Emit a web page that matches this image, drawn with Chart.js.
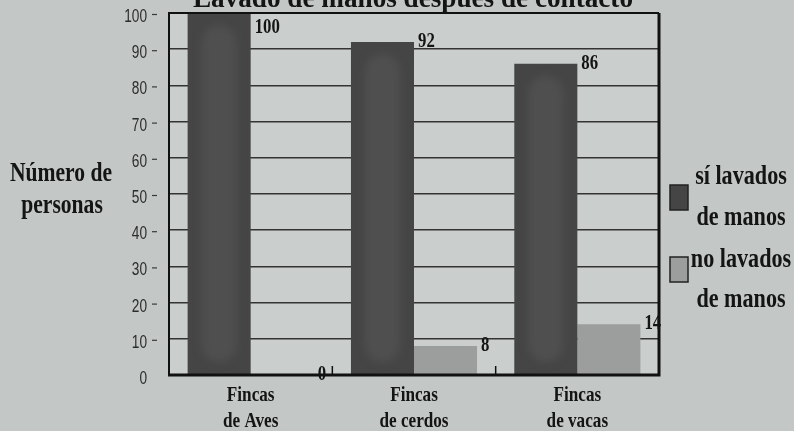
<!DOCTYPE html>
<html>
<head>
<meta charset="utf-8">
<script src="https://cdn.jsdelivr.net/npm/chart.js"></script>
<style>
  html, body { margin: 0; padding: 0; background: #c3c7c6; }
  canvas { display: block; }
</style>
</head>
<body>
<canvas id="myChart" width="794" height="431"></canvas>

<script>
// -- Data
const chart_title = 'Lavado de manos después de contacto';
const y_title = ['Número de', 'personas'];
const categories = [['Fincas', 'de Aves'], ['Fincas', 'de cerdos'], ['Fincas', 'de vacas']];
const si_lavados = [100, 92, 86];
const no_lavados = [0, 8, 14];
const series_names = [['sí lavados', 'de manos'], ['no lavados', 'de manos']];
const y_ticks = [0, 10, 20, 30, 40, 50, 60, 70, 80, 90, 100];

const DARK = '#454545';
const LIGHT = '#9c9e9e';
const INK = '#141414';
const SERIF = '"Liberation Serif", "Times New Roman", serif';
const SANS = '"Liberation Sans", Arial, sans-serif';

// -- Draw text squeezed horizontally (the labels use a narrow face).
const squeeze_text = (ctx, text, x, y, font, align, sx) => {
  ctx.save();
  ctx.font = font;
  ctx.translate(x, y);
  ctx.scale(sx, 1);
  ctx.textAlign = align;
  ctx.textBaseline = 'alphabetic';
  ctx.fillText(text, 0, 0);
  ctx.restore();
};

const paint_plugin = {
  id: 'paint',
  beforeDraw(chart) {
    const {ctx, chartArea: a} = chart;
    ctx.save();
    ctx.fillStyle = '#c3c7c6';
    ctx.fillRect(0, 0, chart.width, chart.height);
    ctx.fillStyle = '#cacecd';
    ctx.fillRect(a.left, a.top, a.right - a.left, a.bottom - a.top);
    ctx.restore();
  },
  afterDatasetsDraw(chart) {
    const {ctx, chartArea: a, scales: {x, y}} = chart;
    ctx.save();

    // -- Soft lighter core on the dark bars.
    chart.getDatasetMeta(0).data.forEach((bar) => {
      const w = bar.width;
      const l = bar.x - w / 2 + w * 0.22;
      const r = bar.x + w / 2 - w * 0.22;
      const t = bar.y + 12;
      const b = bar.base - 12;
      ctx.save();
      ctx.filter = 'blur(4px)';
      ctx.fillStyle = 'rgba(95,95,95,0.4)';
      ctx.beginPath();
      ctx.roundRect(l, t, r - l, b - t, (r - l) / 2);
      ctx.fill();
      ctx.restore();
    });

    // -- Plot frame.
    ctx.strokeStyle = '#111';
    ctx.lineWidth = 2;
    ctx.beginPath();
    ctx.moveTo(a.left, a.bottom);
    ctx.lineTo(a.left, a.top);
    ctx.lineTo(a.right, a.top);
    ctx.stroke();
    ctx.lineWidth = 3;
    ctx.beginPath();
    ctx.moveTo(a.right, a.top);
    ctx.lineTo(a.right, a.bottom);
    ctx.lineTo(a.left - 1, a.bottom);
    ctx.stroke();

    // -- Small ticks between categories.
    ctx.lineWidth = 1.5;
    const step = (a.right - a.left) / categories.length;
    for (let i = 1; i < categories.length; i++) {
      const px = a.left + step * i;
      ctx.beginPath();
      ctx.moveTo(px, a.bottom);
      ctx.lineTo(px, a.bottom - 9);
      ctx.stroke();
    }

    // -- Value labels beside each bar.
    ctx.fillStyle = INK;
    [si_lavados, no_lavados].forEach((values, d) => {
      chart.getDatasetMeta(d).data.forEach((bar, i) => {
        const lx = bar.x + bar.width / 2 + 4;
        const ly = Math.max(bar.y + 5, a.top + 20);
        squeeze_text(ctx, String(values[i]), lx, ly, 'bold 21px ' + SERIF, 'left', 0.8);
      });
    });

    // -- Category labels.
    categories.forEach((lines, i) => {
      const cx = x.getPixelForValue(i);
      lines.forEach((t, k) => {
        squeeze_text(ctx, t, cx, 401 + k * 26, 'bold 22px ' + SERIF, 'center', 0.78);
      });
    });

    // -- Y tick labels with a trailing dash.
    ctx.fillStyle = '#2c2c2c';
    ctx.strokeStyle = '#3a3a3a';
    ctx.lineWidth = 1.2;
    y_ticks.forEach((v) => {
      const py = y.getPixelForValue(v);
      squeeze_text(ctx, String(v), a.left - 22, py + 9, '19px ' + SANS, 'right', 0.72);
      if (v > 0) {
        ctx.beginPath();
        ctx.moveTo(a.left - 17, py + 1.5);
        ctx.lineTo(a.left - 12, py + 1.5);
        ctx.stroke();
      }
    });

    // -- Y axis title.
    ctx.fillStyle = INK;
    squeeze_text(ctx, y_title[0], 61, 181, 'bold 27px ' + SERIF, 'center', 0.8);
    squeeze_text(ctx, y_title[1], 62, 213, 'bold 27px ' + SERIF, 'center', 0.8);

    // -- Chart title, mostly above the top edge.
    ctx.font = 'bold 28px ' + SERIF;
    const tw = ctx.measureText(chart_title).width;
    squeeze_text(ctx, chart_title, 413, 7, 'bold 28px ' + SERIF, 'center', 440 / tw);

    // -- Legend.
    const boxes = [[DARK, 185], [LIGHT, 257]];
    const text_rows = [[184, 225], [267, 307]];
    boxes.forEach(([color, by], k) => {
      ctx.fillStyle = color;
      ctx.fillRect(670, by, 18, 25);
      ctx.strokeStyle = '#222';
      ctx.lineWidth = 1.5;
      ctx.strokeRect(670, by, 18, 25);
      ctx.fillStyle = INK;
      series_names[k].forEach((t, j) => {
        squeeze_text(ctx, t, 741, text_rows[k][j], 'bold 27px ' + SERIF, 'center', 0.82);
      });
    });

    ctx.restore();
  }
};

// -- Build the chart.
const chart = new Chart(
  document.getElementById('myChart'),
  {
    type: 'bar',
    data: {
      labels: categories,
      datasets: [
        {
          label: series_names[0].join(' '),
          data: si_lavados,
          backgroundColor: DARK,
          borderWidth: 0,
        },
        {
          label: series_names[1].join(' '),
          data: no_lavados,
          backgroundColor: LIGHT,
          borderWidth: 0,
        },
      ],
    },
    options: {
      responsive: false,
      animation: false,
      layout: {
        padding: {left: 169, top: 13, right: 135, bottom: 56},
      },
      datasets: {
        bar: {
          categoryPercentage: 0.772,
          barPercentage: 1.0,
        },
      },
      scales: {
        x: {
          display: false,
        },
        y: {
          min: 0,
          max: 100,
          ticks: {display: false, stepSize: 10},
          border: {display: false},
          grid: {color: '#333', lineWidth: 1.5, drawTicks: false},
          afterFit: (scale) => { scale.width = 0; },
        },
      },
      plugins: {
        legend: {display: false},
        title: {display: false},
        tooltip: {enabled: false},
      },
    },
    plugins: [paint_plugin],
  }
);
</script>
</body>
</html>
